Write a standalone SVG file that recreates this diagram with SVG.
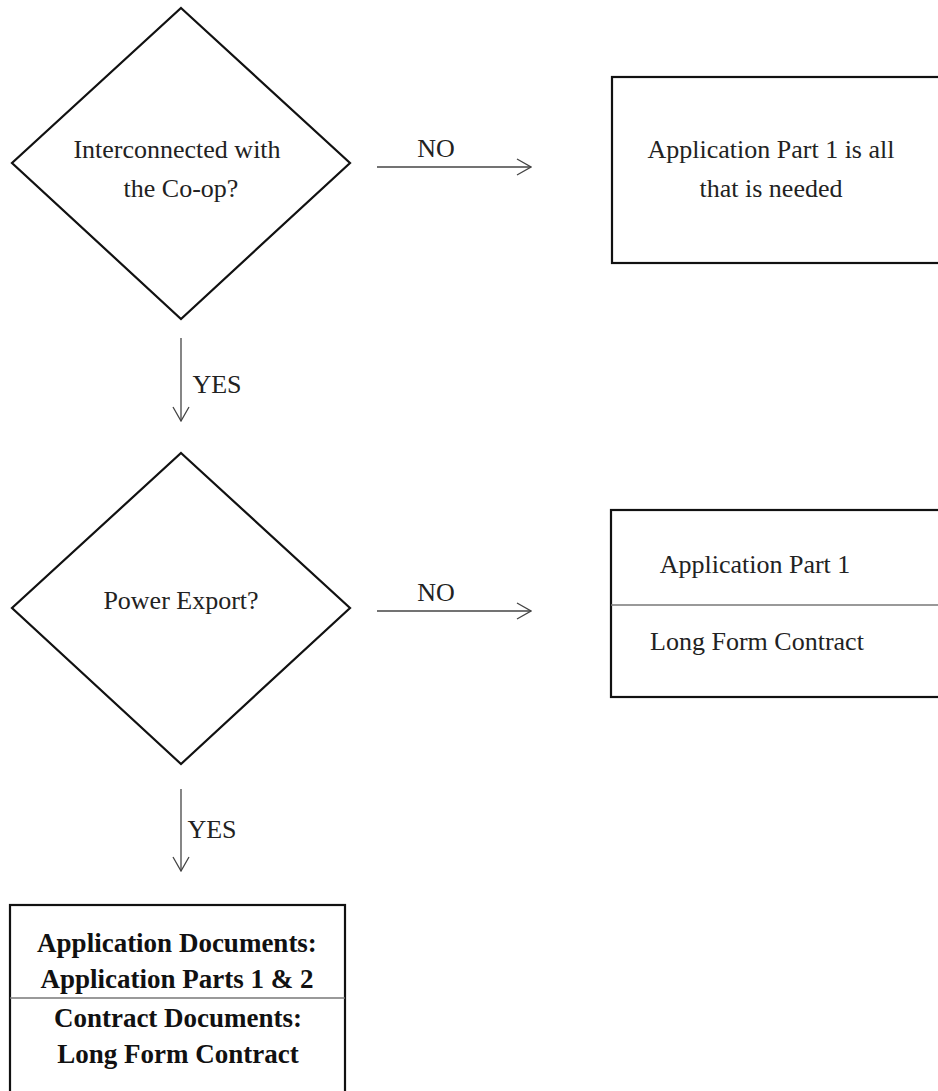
<svg xmlns="http://www.w3.org/2000/svg" width="938" height="1091" viewBox="0 0 938 1091">
<defs>
<style>
.shape{fill:#fff;stroke:#111;stroke-width:2.2}
.div{stroke:#777;stroke-width:1.5}
.conn{stroke:#444;stroke-width:1.3;fill:none}
.t{font-family:"Liberation Serif","Times New Roman",serif;font-size:26px;fill:#222;text-anchor:middle}
.b{font-family:"Liberation Serif","Times New Roman",serif;font-size:27px;font-weight:bold;fill:#111;text-anchor:middle}
</style>
<marker id="arr" viewBox="0 0 16 18" refX="15" refY="9" markerWidth="16" markerHeight="18" markerUnits="userSpaceOnUse" orient="auto">
<path d="M1,1 L15,9 L1,17" fill="none" stroke="#444" stroke-width="1.3"/>
</marker>
</defs>
<rect width="938" height="1091" fill="#fff"/>
<g id="connectors">
<line class="conn" x1="377" y1="167" x2="531" y2="167" marker-end="url(#arr)"/>
<text class="t" x="436" y="157">NO</text>
<line class="conn" x1="181" y1="338" x2="181" y2="421" marker-end="url(#arr)"/>
<text class="t" x="217" y="393">YES</text>
<line class="conn" x1="377" y1="611" x2="531" y2="611" marker-end="url(#arr)"/>
<text class="t" x="436" y="601">NO</text>
<line class="conn" x1="181" y1="789" x2="181" y2="871" marker-end="url(#arr)"/>
<text class="t" x="212" y="838">YES</text>
</g>
<g id="decision1">
<polygon class="shape" points="181,8 350,163 181,319 12,163"/>
<text class="t" x="177" y="158">Interconnected with</text>
<text class="t" x="181" y="197">the Co-op?</text>
</g>
<g id="result1">
<rect class="shape" x="612" y="77" width="340" height="186"/>
<text class="t" x="771" y="158">Application Part 1 is all</text>
<text class="t" x="771" y="197">that is needed</text>
</g>
<g id="decision2">
<polygon class="shape" points="181,453 350,608 181,764 12,608"/>
<text class="t" x="181" y="609">Power Export?</text>
</g>
<g id="result2">
<rect class="shape" x="611" y="510" width="340" height="187"/>
<line class="div" x1="611" y1="605" x2="938" y2="605"/>
<text class="t" x="755" y="573">Application Part 1</text>
<text class="t" x="757" y="650">Long Form Contract</text>
</g>
<g id="result3">
<rect class="shape" x="10" y="905" width="335" height="200"/>
<line class="div" x1="10" y1="998" x2="345" y2="998"/>
<text class="b" x="177" y="952">Application Documents:</text>
<text class="b" x="177" y="988">Application Parts 1 &amp; 2</text>
<text class="b" x="178" y="1027">Contract Documents:</text>
<text class="b" x="178" y="1063">Long Form Contract</text>
</g>
</svg>
